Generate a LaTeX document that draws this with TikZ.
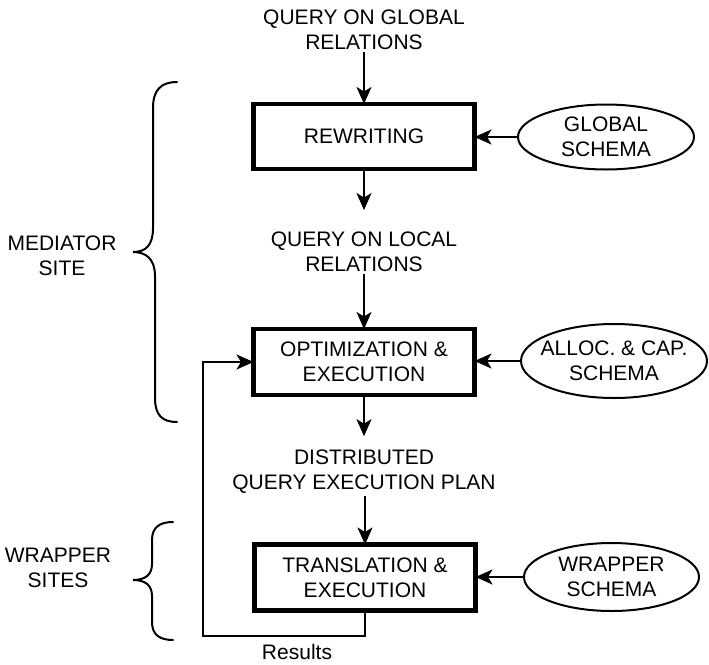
\documentclass[tikz,border=0pt]{standalone}
\usepackage{fontspec}
\setmainfont{Liberation Sans}
\usetikzlibrary{arrows.meta,shapes.geometric}
\begin{document}
\begin{tikzpicture}[x=1pt,y=-1pt,
  font=\fontsize{21}{25}\selectfont,
  every node/.style={outer sep=0pt},
  label/.style={align=center,inner sep=2pt},
  stage/.style={draw,line width=4.6pt,rectangle,minimum width=221pt,minimum height=65pt,align=center,inner sep=0pt},
  schema/.style={draw,line width=2pt,ellipse,inner sep=0pt},
  arr/.style={line width=2pt,-{Stealth[length=17pt,width=15pt,inset=4.5pt]}},
  brace/.style={line width=2pt,line cap=round}]
\useasboundingbox (0,0) rectangle (709,664);

% flow of queries through the sites
\node[label] (q1) at (364,30) {QUERY ON GLOBAL\\RELATIONS};
\node[stage] (rw) at (364,136.5) {REWRITING};
\node[label] (q2) at (364,252) {QUERY ON LOCAL\\RELATIONS};
\node[stage,minimum height=66pt] (opt) at (364,362) {OPTIMIZATION \&\\EXECUTION};
\node[label] (q3) at (364,472) {DISTRIBUTED\\QUERY EXECUTION PLAN};
\node[stage,minimum height=66pt] (tr) at (365,577.5) {TRANSLATION \&\\EXECUTION};

% schemas feeding each stage
\node[schema,minimum width=176pt,minimum height=65pt] (gs) at (606,137) {};
\node at (gs) [align=center,inner sep=0pt] {GLOBAL\\SCHEMA};
\node[schema,minimum width=186pt,minimum height=74pt] (acs) at (614,361) {};
\node at (acs) [align=center,inner sep=0pt] {ALLOC. \& CAP.\\SCHEMA};
\node[schema,minimum width=175pt,minimum height=68pt] (ws) at (611.5,577) {};
\node at (ws) [align=center,inner sep=0pt] {WRAPPER\\SCHEMA};

% vertical flow arrows
\draw[arr] (q1.south) -- (rw.north);
\draw[arr,shorten >=20pt] (rw.south) -- (q2.north);
\draw[arr] (q2.south) -- (opt.north);
\draw[arr,shorten >=12pt] (opt.south) -- (q3.north);
\draw[arr] (q3.south -| tr.north) -- (tr.north);

% schema arrows
\draw[arr] (gs.west) -- (rw.east |- gs.west);
\draw[arr] (acs.west) -- (opt.east |- acs.west);
\draw[arr] (ws.west) -- (tr.east |- ws.west);

% results returned to the mediator
\coordinate (fb) at (203,636);
\draw[arr] (tr.south) |- (fb) |- (opt.west);
\node[inner sep=0pt] (res) at (297,651.5) {Results};

% site braces
\draw[brace] (177,82) .. controls (161,82) and (153,90) .. (153,108)
  -- (153,228) .. controls (153,245) and (146,252) .. (133,252)
  .. controls (146,252) and (155,259) .. (155,276)
  -- (155,398) .. controls (155,415) and (162,422) .. (177,422);
\node[label] (med) at (62,256) {MEDIATOR\\SITE};

\draw[brace] (173,522) .. controls (160,522) and (152,527) .. (152,540)
  -- (152,564) .. controls (152,575) and (145,580) .. (133,580)
  .. controls (145,580) and (152,585) .. (152,596)
  -- (152,622) .. controls (152,635) and (160,640) .. (173,640);
\node[label] (wr) at (58,568) {WRAPPER\\SITES};
\end{tikzpicture}
\end{document}
